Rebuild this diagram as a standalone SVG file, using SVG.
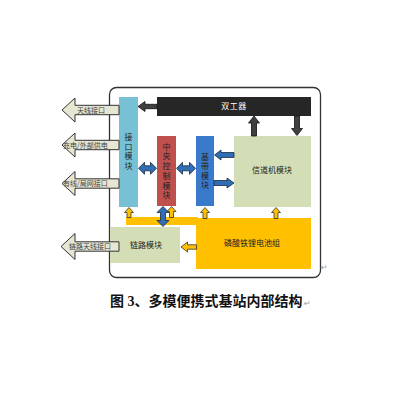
<svg xmlns="http://www.w3.org/2000/svg" width="400" height="400" viewBox="0 0 400 400">
<defs>
<style>
.t{font-family:"Noto Sans CJK SC",sans-serif;font-size:8px;fill:#222}
.ts{font-family:"Noto Sans CJK SC",sans-serif;font-size:7px;fill:#444}
.bigarr{fill:#E6E6D2;stroke:#333;stroke-width:1}
.dark{fill:#404040;stroke:#111;stroke-width:0.8}
.blue{fill:#2F6DB5;stroke:#1a2a40;stroke-width:0.8}
.yel{fill:#FFC000;stroke:#333;stroke-width:0.8}
.mark{font-family:"DejaVu Sans",sans-serif;font-size:8px;fill:#999}
</style>
</defs>
<rect width="400" height="400" fill="#fff"/>
<rect id="frame" x="109.5" y="87.5" width="211" height="190" rx="7" fill="#fff" stroke="#333" stroke-width="1.3"/>

<g id="bus">
<rect x="126" y="217" width="72" height="8" fill="#FFC000"/>
</g>

<g id="interface">
<rect x="119" y="97" width="19" height="110" fill="#78C1D5"/>
<text class="t" text-anchor="middle"><tspan x="128.5" y="140">接</tspan><tspan x="128.5" y="149.7">口</tspan><tspan x="128.5" y="159.4">模</tspan><tspan x="128.5" y="169.1">块</tspan></text>
</g>
<g id="duplexer">
<rect x="157" y="97" width="154" height="19" fill="#262626"/>
<text class="t" x="234" y="109" text-anchor="middle" letter-spacing="0.5" style="fill:#fff">双工器</text>
</g>
<g id="central">
<rect x="157" y="136" width="19" height="70" fill="#C0504D"/>
<text class="t" text-anchor="middle"><tspan x="166.5" y="149.7">中</tspan><tspan x="166.5" y="159.4">央</tspan><tspan x="166.5" y="169.1">控</tspan><tspan x="166.5" y="178.8">制</tspan><tspan x="166.5" y="188.5">模</tspan><tspan x="166.5" y="198.2">块</tspan></text>
</g>
<g id="baseband">
<rect x="196" y="136" width="18" height="70" fill="#3A7ACB"/>
<text class="t" text-anchor="middle"><tspan x="205" y="159.5">基</tspan><tspan x="205" y="169">带</tspan><tspan x="205" y="178.5">模</tspan><tspan x="205" y="188">块</tspan></text>
</g>
<g id="channel">
<rect x="234" y="136" width="77" height="71" fill="#D3DEB6"/>
<text class="t" x="272" y="173" text-anchor="middle">信道机模块</text>
</g>
<g id="link">
<rect x="110" y="227" width="70" height="36" fill="#D3DEB6"/>
<text class="t" x="146" y="248" text-anchor="middle">链路模块</text>
</g>
<g id="battery">
<rect x="196" y="218" width="115" height="51" fill="#FFC000"/>
<text class="t" x="252" y="246" text-anchor="middle">磷酸铁锂电池组</text>
</g>

<g id="ports">
<g id="port-antenna">
<polygon class="bigarr" points="62,110 75,98 75,105.3 119,105.3 119,114.7 75,114.7 75,122"/>
<text class="ts" x="77" y="112.5">天线接口</text>
</g>
<g id="port-power">
<polygon class="bigarr" points="62,145 75,133 75,140.3 119,140.3 119,149.7 75,149.7 75,157"/>
<text class="ts" x="63" y="147.5">充电/外部供电</text>
</g>
<g id="port-wired">
<polygon class="bigarr" points="62,183.5 75,171.5 75,178.8 119,178.8 119,188.2 75,188.2 75,195.5"/>
<text class="ts" x="63" y="186">有线/局网接口</text>
</g>
<g id="port-link">
<polygon class="bigarr" points="61,246.5 75,233.5 75,241.8 119,241.8 119,251.2 75,251.2 75,259.5"/>
<text class="ts" x="69" y="249">链路天线接口</text>
</g>
</g>

<g id="connectors">
<polygon class="dark" points="138,106.5 145,101.5 145,104.3 157,104.3 157,108.7 145,108.7 145,111.5"/>
<polygon class="dark" points="254,116 259.5,123 256.5,123 256.5,136 251.5,136 251.5,123 248.5,123"/>
<polygon class="dark" points="294.5,116 299.5,116 299.5,128.5 302.5,128.5 297,135.5 291.5,128.5 294.5,128.5"/>
<polygon class="blue" points="214.5,155 221,150 221,152.5 234,152.5 234,157.5 221,157.5 221,160"/>
<polygon class="blue" points="214,180.5 227,180.5 227,178 234,183 227,188 227,185.5 214,185.5"/>
<polygon class="blue" points="138.5,168.3 144.5,162.3 144.5,165.8 150.5,165.8 150.5,162.3 156.5,168.3 150.5,174.3 150.5,170.8 144.5,170.8 144.5,174.3"/>
<polygon class="blue" points="176.5,168.3 182.5,162.3 182.5,165.8 189.5,165.8 189.5,162.3 195.5,168.3 189.5,174.3 189.5,170.8 182.5,170.8 182.5,174.3"/>
<polygon class="blue" points="163,206.5 169,212.5 165.5,212.5 165.5,220.5 169,220.5 163,226.5 157,220.5 160.5,220.5 160.5,212.5 157,212.5"/>
<polygon class="yel" points="129,207.5 133.5,212.5 131,212.5 131,217.5 127,217.5 127,212.5 124.5,212.5"/>
<polygon class="yel" points="171.5,206.5 176,211.5 173.5,211.5 173.5,217.5 169.5,217.5 169.5,211.5 167,211.5"/>
<polygon class="yel" points="205,207.5 209.5,212.5 207,212.5 207,218.5 203,218.5 203,212.5 200.5,212.5"/>
<polygon class="yel" points="276,207.5 280.5,212.5 278,212.5 278,218.5 274,218.5 274,212.5 271.5,212.5"/>
<polygon class="yel" points="181,247 187.5,242 187.5,244.8 196.5,244.8 196.5,249.2 187.5,249.2 187.5,252"/>
</g>

<text class="mark" x="321" y="270">↵</text>
<text x="110" y="306" style="font-family:'Liberation Serif','Noto Sans CJK SC',serif;font-size:14px;font-weight:bold;fill:#111">图 3、多模便携式基站内部结构</text>
<text class="mark" x="304" y="306">↵</text>
</svg>
